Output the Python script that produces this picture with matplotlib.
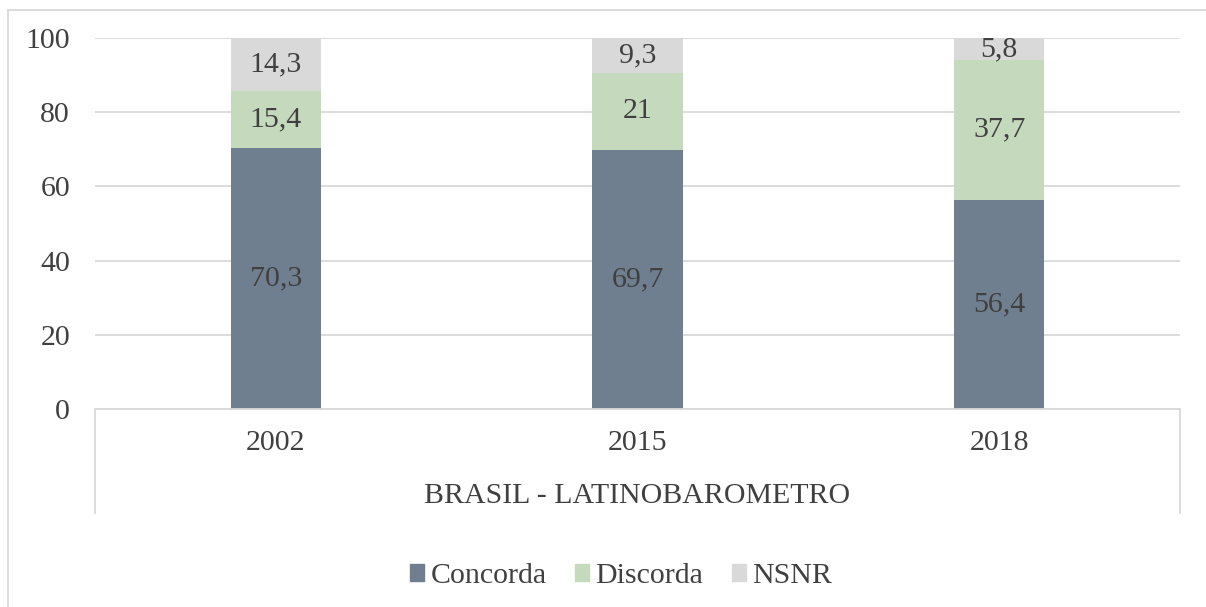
import numpy as np
import matplotlib
matplotlib.use('Agg')
import matplotlib.pyplot as plt
from matplotlib.lines import Line2D

years = ["2002", "2015", "2018"]
concorda = [70.3, 69.7, 56.4]
discorda = [15.4, 21.0, 37.7]
nsnr = [14.3, 9.3, 5.8]
series_names = ["Concorda", "Discorda", "NSNR"]
group_label = "BRASIL - LATINOBAROMETRO"

colors = ["#6F7F8F", "#C5D9BC", "#D9D9D9"]
text_color = "#404040"
grid_color = "#D9D9D9"
fs = 21.5

plt.rcParams['font.family'] = ['Liberation Serif', 'DejaVu Serif']

W, H = 1206, 607
fig = plt.figure(figsize=(W / 100, H / 100), dpi=100)
fig.patch.set_facecolor("white")

# plot area in pixels
x0, x1, ytop, ybot = 95, 1180, 38, 409
ax = fig.add_axes([x0 / W, (H - ybot) / H, (x1 - x0) / W, (ybot - ytop) / H])

x = np.arange(len(years))
width = 0.249
data = [concorda, discorda, nsnr]
bottom = np.zeros(len(years))
for vals, col, name in zip(data, colors, series_names):
    vals = np.array(vals)
    ax.bar(x, vals, width, bottom=bottom, color=col, label=name, zorder=2)
    for xi, b, v in zip(x, bottom, vals):
        lbl = f"{v:g}".replace(".", ",")
        ax.text(xi, b + v / 2, lbl, ha="center", va="center",
                fontsize=fs, color=text_color, zorder=3)
    bottom = bottom + vals

ax.set_xlim(-0.5, len(years) - 0.5)
ax.set_ylim(0, 100)
ax.set_yticks(np.arange(0, 101, 20))
ax.yaxis.grid(True, color=grid_color, linewidth=1.3, zorder=0)
ax.set_axisbelow(True)
for s in ["top", "right", "left"]:
    ax.spines[s].set_visible(False)
ax.spines["bottom"].set_color(grid_color)
ax.spines["bottom"].set_linewidth(1.3)
ax.tick_params(axis="y", length=0, pad=18, labelsize=fs, labelcolor=text_color)
ax.tick_params(axis="x", length=0, labelbottom=False)

# multi-level category axis
axh = ybot - ytop
for xi, yr in zip(x, years):
    ax.text(xi, -34 / axh, yr, transform=ax.get_xaxis_transform(),
            ha="center", va="center", fontsize=fs, color=text_color)
ax.text(0.5, -87 / axh, group_label, transform=ax.transAxes,
        ha="center", va="center", fontsize=fs, color=text_color)
for xa in (0, 1):
    ax.add_line(Line2D([xa, xa], [0, -104 / axh], transform=ax.transAxes,
                       color=grid_color, linewidth=1.3, clip_on=False))

# legend
handles = [plt.Rectangle((0, 0), 1, 1, color=c) for c in colors]
fig.legend(handles, series_names, loc="center",
           bbox_to_anchor=(0.5 + 18 / W, (H - 576) / H),
           ncol=3, frameon=False, fontsize=fs, handlelength=0.47, handleheight=0.47,
           handletextpad=0.22, columnspacing=0.95, labelcolor=text_color)

# chart border (left and top visible)
fig.add_artist(Line2D([8 / W, 8 / W], [0, (H - 10) / H], color=grid_color, linewidth=1.3))
fig.add_artist(Line2D([8 / W, 1], [(H - 10) / H, (H - 10) / H], color=grid_color, linewidth=1.3))

fig.savefig("out.png", dpi=100)
